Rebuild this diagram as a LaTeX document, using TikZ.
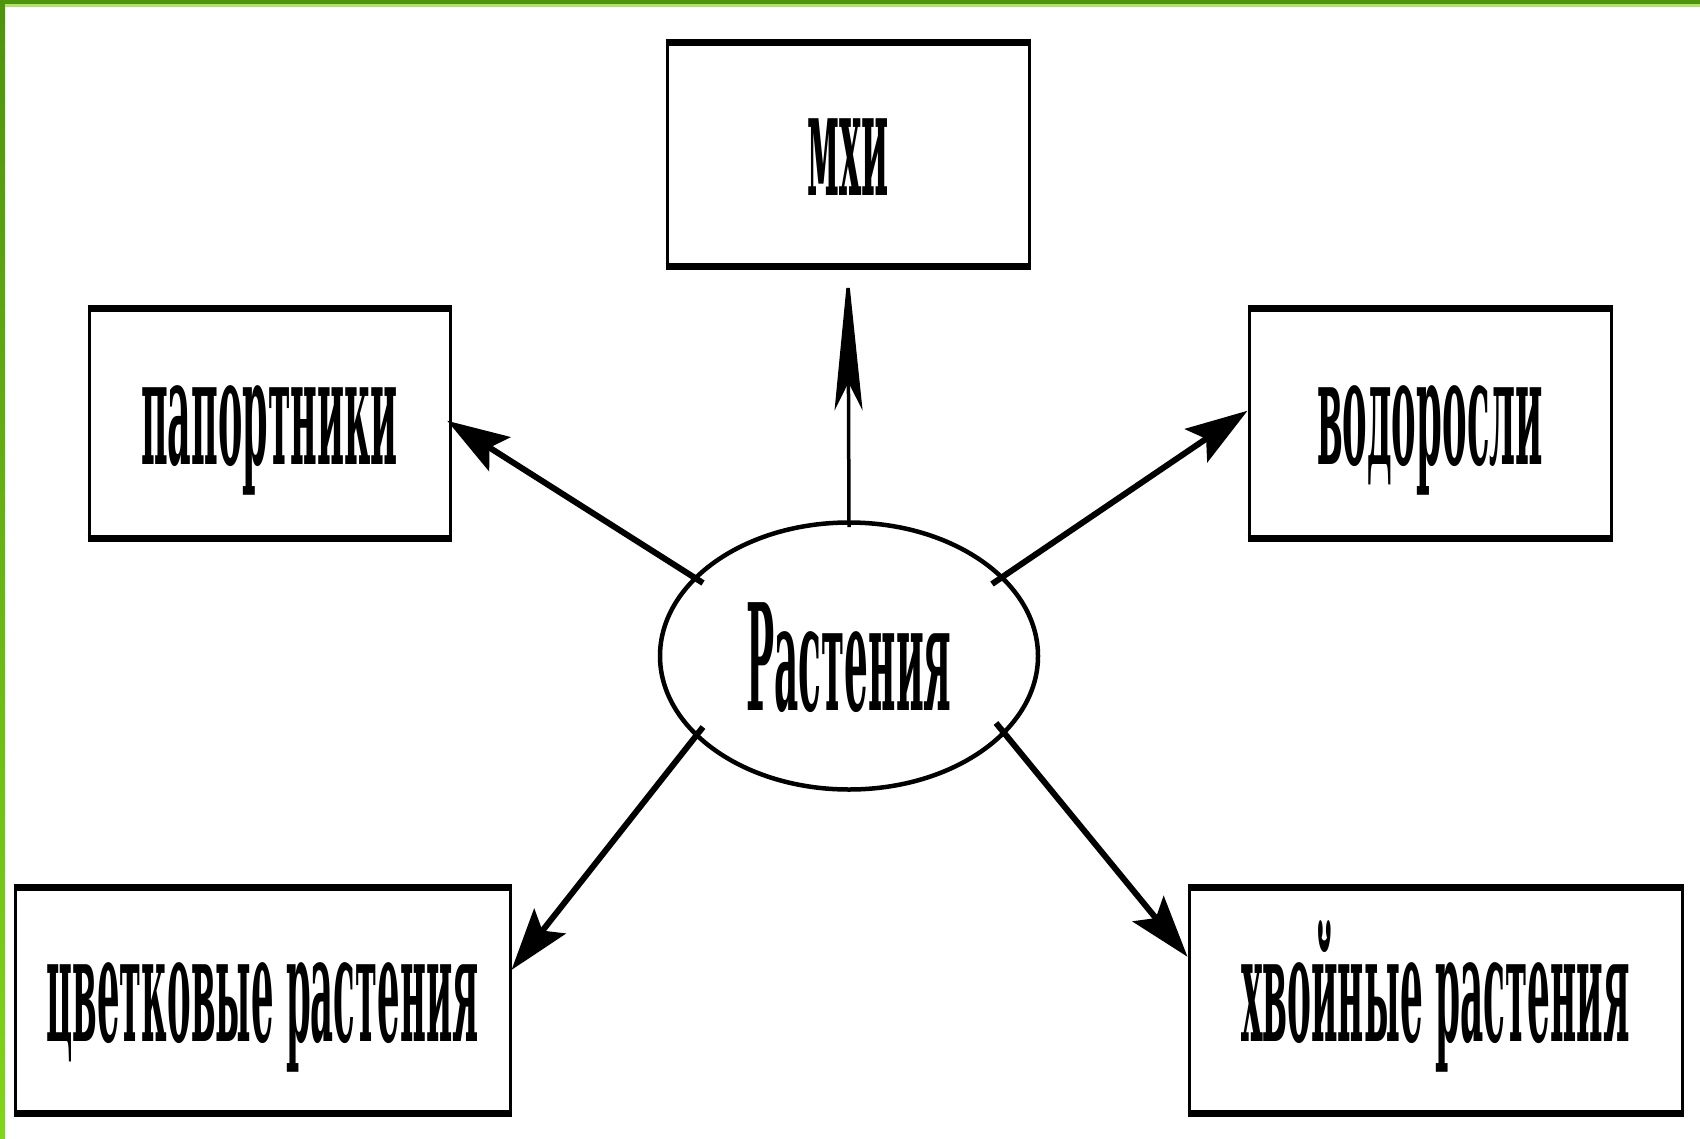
\documentclass[tikz,border=0pt]{standalone}
\usepackage{fontspec}
\setmainfont{DejaVu Serif}
\usetikzlibrary{arrows.meta,shapes.geometric}
\newcommand\lbl[2]{\resizebox{#1}{\height}{\fontsize{148}{150}\selectfont\bfseries #2}}
\definecolor{gdark}{RGB}{78,148,12}
\definecolor{glight}{RGB}{176,226,104}
\definecolor{glime}{RGB}{128,214,24}
\begin{document}
\begin{tikzpicture}[x=1pt,y=-1pt,
  box/.style={draw, rectangle, line width=3pt, inner sep=0pt, text height=81pt, text depth=0pt},
  oval/.style={draw, ellipse, line width=4.5pt, inner sep=0pt, text height=108pt, text depth=0pt},
  thin arrow/.style={line width=3.5pt, -{Stealth[length=140pt,width=28pt,inset=28pt]}},
  thick arrow/.style={line width=6pt, -{Stealth[length=62pt,width=40pt,inset=12pt]}}]
\useasboundingbox (0,0) rectangle (1700,1138);
\fill[white] (0,0) rectangle (1700,1138);
% green frame
\shade[top color=gdark, bottom color=glime] (0,0) rectangle (5,1138);
\fill[gdark] (0,0) rectangle (1700,4);
\fill[glight] (5,4) rectangle (1700,7);
% nodes
\node[box, minimum width=362pt, minimum height=221pt] (mxi) at (848,154.5) {\lbl{81pt}{мхи}};
\node[box, minimum width=361pt, minimum height=227pt] (pap) at (269.5,423.5) {\lbl{257pt}{папортники}};
\node[box, minimum width=362pt, minimum height=227pt] (vod) at (1430,423.5) {\lbl{226pt}{водоросли}};
\node[box, minimum width=495pt, minimum height=223pt] (cvet) at (262.5,1000.5) {\lbl{432pt}{цветковые растения}};
\node[box, minimum width=493pt, minimum height=223pt] (xv) at (1435.5,1000.5) {\lbl{389pt}{хвойные растения}};
\node[oval, minimum width=378pt, minimum height=267pt] (rast) at (849,656) {\lbl{205pt}{Растения}};
\foreach \n in {mxi,pap,vod,cvet,xv}
  \draw[line width=7pt] (\n.north west) -- (\n.north east) (\n.south west) -- (\n.south east);
% connector start points on the ellipse
\coordinate (e0) at (849,527);
\coordinate (e1) at (703,583);
\coordinate (e2) at (992,584);
\coordinate (e3) at (703,727);
\coordinate (e4) at (996,723);
\draw[thin arrow, shorten >=4pt] (e0) -- (mxi.south);
\draw[thick arrow, shorten >=-5pt] (e1) -- (pap.east);
\draw[thick arrow] (e2) -- (vod.176);
\draw[thick arrow] (e3) -- (cvet.7);
\draw[thick arrow] (e4) -- (xv.170);
\end{tikzpicture}
\end{document}
